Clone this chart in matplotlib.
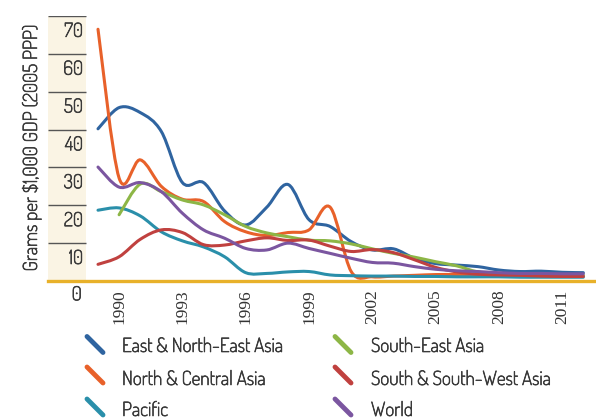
import numpy as np
import matplotlib
matplotlib.use("Agg")
import matplotlib.pyplot as plt
import matplotlib.patheffects as pe
from matplotlib import font_manager as fm
from matplotlib.path import Path
from matplotlib.patches import PathPatch, Rectangle
from matplotlib.lines import Line2D

# data (grams per $1,000 GDP)
years = list(range(1989, 2013))
east_ne_asia = [40.2, 45.8, 44.5, 39.5, 26.0, 26.0, 18.5, 14.8, 19.5, 25.5, 16.2, 14.4,
                10.4, 8.2, 8.5, 6.0, 4.6, 4.2, 3.8, 2.9, 2.5, 2.6, 2.3, 2.2]
north_central_asia = [66.5, 27.2, 32.0, 25.0, 21.6, 21.0, 15.7, 13.0, 12.0, 12.8, 13.5, 19.5,
                      2.5, 1.1, 1.3, 1.5, 1.7, 1.7, 1.6, 1.5, 1.4, 1.3, 1.3, 1.3]
pacific = [18.7, 19.3, 17.2, 13.0, 10.6, 9.0, 6.4, 2.2, 2.0, 2.4, 2.5, 1.6,
           1.4, 1.3, 1.3, 1.2, 1.2, 1.1, 1.1, 1.1, 1.0, 1.0, 1.0, 1.0]
south_east_asia_years = list(range(1990, 2013))
south_east_asia = [17.5, 25.6, 23.6, 21.4, 20.1, 17.5, 14.4, 12.7, 11.7, 10.8, 10.6,
                   9.8, 8.5, 7.3, 6.3, 5.1, 4.0, 2.4, 1.9, 1.7, 1.6, 1.5, 1.5]
south_sw_asia = [4.4, 6.4, 11.0, 13.5, 12.8, 9.6, 9.5, 10.6, 11.4, 10.7, 10.8, 9.2,
                 7.8, 8.3, 7.5, 5.6, 3.6, 2.4, 1.8, 1.6, 1.5, 1.3, 1.2, 1.2]
world = [30.1, 24.8, 26.0, 23.6, 17.9, 13.5, 11.3, 8.6, 8.2, 10.0, 8.6, 7.3,
         6.0, 4.9, 4.7, 3.8, 3.1, 2.7, 2.5, 2.2, 2.0, 2.0, 1.9, 1.9]

series = [
    ("East & North-East Asia", years, east_ne_asia, "#2f64a0"),
    ("North & Central Asia", years, north_central_asia, "#e8612a"),
    ("Pacific", years, pacific, "#2a8faa"),
    ("South-East Asia", south_east_asia_years, south_east_asia, "#8db646"),
    ("South & South-West Asia", years, south_sw_asia, "#c0413f"),
    ("World", years, world, "#7b56a0"),
]
y_ticks = [10, 20, 30, 40, 50, 60, 70]
x_ticks = [1990, 1993, 1996, 1999, 2002, 2005, 2008, 2011]

available = set(f.name for f in fm.fontManager.ttflist)


def pick(cands):
    for c in cands:
        if c in available:
            return c
    return "DejaVu Sans"


sans_name = pick(["Dosis", "Barlow Semi Condensed", "Roboto Condensed", "Liberation Sans Narrow"])
serif_name = pick(["Liberation Serif", "Tinos", "Times New Roman", "DejaVu Serif"])
sans = [sans_name, "DejaVu Sans"]
text_col = "#3a3a3a"

# Dosis may only come as its light default instance: thicken it a bit
weights = [f.weight for f in fm.fontManager.ttflist if f.name == sans_name]
weights = [w for w in weights if isinstance(w, int)]
if any(400 <= w <= 600 for w in weights):
    sans_kw = dict(family=sans, fontweight=500)
else:
    sans_kw = dict(family=sans, path_effects=[pe.withStroke(linewidth=0.5, foreground=text_col)])


def smooth_path(xs, ys):
    # catmull-rom through the yearly points, as cubic bezier segments
    pts = np.column_stack([xs, ys]).astype(float)
    n = len(pts)
    verts = [pts[0]]
    codes = [Path.MOVETO]
    for i in range(n - 1):
        p0 = pts[max(i - 1, 0)]
        p1 = pts[i]
        p2 = pts[i + 1]
        p3 = pts[min(i + 2, n - 1)]
        verts += [p1 + (p2 - p0) / 6, p2 - (p3 - p1) / 6, p2]
        codes += [Path.CURVE4] * 3
    return Path(verts, codes)


W, H = 596, 420
fig = plt.figure(figsize=(W / 100, H / 100), dpi=100)
ax = fig.add_axes([48 / W, 1 - 281 / H, (W - 48) / W, (281 - 16) / H])

x0 = 1989 - (98 - 48) / 21.1
x1 = 1989 + (W - 98) / 21.1
band_end = 1989 - (98 - 86) / 21.1
ax.set_xlim(x0, x1)
ax.set_ylim(0, 70)
for s in ax.spines.values():
    s.set_visible(False)

# beige band with the scale lines
ax.add_patch(Rectangle((x0, 0), band_end - x0, 70, facecolor="#faf4e4", edgecolor="none", zorder=0))
ax.hlines(y_ticks, x0, band_end, colors="#555555", lw=1.0, zorder=1)
for v in y_ticks:
    ax.text(band_end - 0.14, v - 4.2, str(v), ha="right", va="center",
            fontsize=14, color=text_col, **sans_kw)
ax.text(band_end - 0.2, -3.8, "0", ha="right", va="center",
        fontsize=14, color=text_col, clip_on=False, **sans_kw)

ax.axhline(0, color="#e8b12a", lw=2.4, zorder=1, clip_on=False)

for name, xs, ys, col in series:
    ax.add_patch(PathPatch(smooth_path(xs, ys), facecolor="none", edgecolor=col,
                           lw=2.2, capstyle="round", zorder=3))

ax.set_yticks([])
ax.set_xticks(x_ticks)
ax.set_xticklabels([str(t) for t in x_ticks], rotation=90, family=serif_name,
                   fontsize=12.5, color="#333333")
ax.tick_params(axis="x", length=0, pad=6)

fig.text(32 / W, 1 - 148 / H, "Grams per $1,000 GDP (2005 PPP)", rotation=90,
         ha="center", va="center", fontsize=14, color=text_col, **sans_kw)

# legend, two columns
col_x = [(87, 122), (335, 371)]
row_y = [(344.5, 347), (375, 380), (407, 411)]
for i, (name, xs, ys, col) in enumerate(series):
    hx, tx = col_x[i // 3]
    hy, ty = row_y[i % 3]
    fig.add_artist(Line2D([hx / W, (hx + 16) / W], [1 - (hy - 8) / H, 1 - (hy + 8) / H],
                          transform=fig.transFigure, color=col, lw=3.5,
                          solid_capstyle="round"))
    fig.text(tx / W, 1 - ty / H, name, ha="left", va="center",
             fontsize=14, color=text_col, **sans_kw)

fig.savefig("out.png", dpi=100)
